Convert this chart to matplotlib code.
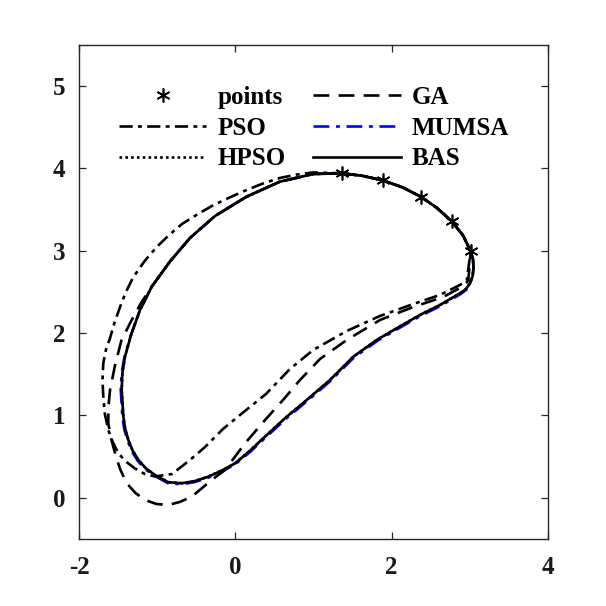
import matplotlib
matplotlib.use("Agg")
import matplotlib.pyplot as plt

plt.rcParams['font.family'] = ['Liberation Serif', 'DejaVu Serif']
plt.rcParams['font.weight'] = 'bold'
plt.rcParams['axes.unicode_minus'] = False

# given points
pts_x = [1.361, 1.893, 2.371, 2.768, 3.011]
pts_y = [3.942, 3.854, 3.658, 3.359, 2.998]

# BAS curve (closed)
bas_x = [1.361, 1.63, 1.893, 2.14, 2.371, 2.58, 2.768, 2.91, 3.011, 3.040, 3.047,
         3.035, 3.002, 2.950, 2.874, 2.618, 2.362,
         2.064, 1.808, 1.509, 1.211, 0.913, 0.657, 0.379, 0.188, -0.004, -0.171,
         -0.346, -0.516, -0.686, -0.861, -1.028, -1.143, -1.241, -1.315, -1.369,
         -1.410, -1.433, -1.454, -1.446, -1.412, -1.335, -1.220, -1.070, -0.836,
         -0.580, -0.260, 0.145, 0.571, 0.997, 1.361]
bas_y = [3.942, 3.910, 3.854, 3.770, 3.658, 3.520, 3.359, 3.190, 2.998, 2.900, 2.792,
         2.690, 2.606, 2.535, 2.484, 2.342, 2.221,
         2.059, 1.917, 1.714, 1.431, 1.188, 0.985, 0.743, 0.572, 0.419, 0.332,
         0.257, 0.204, 0.177, 0.190, 0.277, 0.356, 0.460, 0.575, 0.702,
         0.840, 0.985, 1.310, 1.510, 1.714, 1.978, 2.281, 2.564, 2.871,
         3.156, 3.423, 3.658, 3.840, 3.933, 3.942]

# MUMSA curve (almost identical to BAS, marginally outside on the lower branch)
mumsa_x = [1.361, 1.63, 1.893, 2.14, 2.371, 2.58, 2.768, 2.91, 3.011, 3.040, 3.047,
           3.035, 3.002, 2.954, 2.880, 2.624, 2.368,
           2.070, 1.814, 1.515, 1.217, 0.919, 0.663, 0.385, 0.192, -0.001, -0.170,
           -0.346, -0.516, -0.686, -0.863, -1.034, -1.151, -1.251, -1.327, -1.381,
           -1.422, -1.446, -1.466, -1.456, -1.418, -1.335, -1.220, -1.070, -0.836,
           -0.580, -0.260, 0.145, 0.571, 0.997, 1.361]
mumsa_y = [3.942, 3.910, 3.854, 3.770, 3.658, 3.520, 3.359, 3.190, 2.998, 2.900, 2.792,
           2.690, 2.600, 2.526, 2.474, 2.330, 2.209,
           2.047, 1.905, 1.702, 1.419, 1.176, 0.973, 0.731, 0.560, 0.407, 0.320,
           0.245, 0.192, 0.165, 0.178, 0.267, 0.346, 0.452, 0.569, 0.698,
           0.838, 0.985, 1.310, 1.510, 1.714, 1.978, 2.281, 2.564, 2.871,
           3.156, 3.423, 3.658, 3.840, 3.933, 3.942]

# HPSO curve (coincides with BAS)
hpso_x = list(bas_x)
hpso_y = list(bas_y)

# GA curve (closed)
ga_x = [1.361, 1.63, 1.893, 2.14, 2.371, 2.58, 2.768, 2.91, 3.011, 2.980, 2.896,
        2.660, 2.277, 1.851, 1.425, 1.083, 0.827, 0.610, 0.380, 0.124, -0.132,
        -0.302, -0.558, -0.710, -0.858, -1.010, -1.156, -1.280, -1.390, -1.475,
        -1.539, -1.590, -1.625, -1.625, -1.603, -1.539, -1.456, -1.326, -1.207,
        -1.070, -0.836, -0.580, -0.260, 0.145, 0.571, 0.997, 1.361]
ga_y = [3.942, 3.910, 3.854, 3.770, 3.658, 3.520, 3.359, 3.190, 2.998, 2.634, 2.561,
        2.439, 2.318, 2.160, 1.917, 1.686, 1.431, 1.188, 0.945, 0.662, 0.338,
        0.217, 0.014, -0.050, -0.087, -0.075, -0.026, 0.060, 0.177, 0.350,
        0.541, 0.720, 0.905, 1.100, 1.310, 1.613, 1.917, 2.160, 2.366,
        2.564, 2.871, 3.156, 3.423, 3.658, 3.840, 3.933, 3.942]

# PSO curve (closed)
pso_x = [1.361, 1.63, 1.893, 2.14, 2.371, 2.58, 2.768, 2.91, 3.011, 2.960, 2.849,
         2.618, 2.277, 1.851, 1.425, 0.997, 0.699, 0.392, 0.060, -0.158, -0.388,
         -0.580, -0.810, -1.028, -1.160, -1.284, -1.400, -1.497, -1.570, -1.625,
         -1.670, -1.689, -1.700, -1.689, -1.655, -1.603, -1.545, -1.475, -1.400,
         -1.305, -1.165, -1.006, -0.850, -0.682, -0.490, -0.299, -0.080, 0.145,
         0.360, 0.571, 0.780, 0.997, 1.361]
pso_y = [3.942, 3.910, 3.854, 3.770, 3.658, 3.520, 3.359, 3.190, 2.998, 2.634, 2.573,
         2.464, 2.354, 2.209, 2.026, 1.796, 1.565, 1.261, 1.006, 0.836, 0.617,
         0.460, 0.289, 0.259, 0.290, 0.356, 0.440, 0.541, 0.680, 0.824,
         1.020, 1.225, 1.430, 1.638, 1.800, 1.941, 2.130, 2.318, 2.500,
         2.682, 2.870, 3.047, 3.190, 3.326, 3.440, 3.545, 3.645, 3.739,
         3.820, 3.885, 3.925, 3.952, 3.942]

x_ticks = [-2, 0, 2, 4]
y_ticks = [0, 1, 2, 3, 4, 5]

fig = plt.figure(figsize=(6.06, 6.06), dpi=100)
ax = fig.add_axes([0.1304, 0.1106, 0.7739, 0.8152])

lw = 1.9
l_mumsa, = ax.plot(mumsa_x, mumsa_y, color='#0000ff', lw=lw, linestyle=(0, (6, 2.5, 1.5, 2.5)), label='MUMSA')
l_hpso, = ax.plot(hpso_x, hpso_y, color='black', lw=lw, linestyle=(0, (1, 1.2)), label='HPSO')
l_ga, = ax.plot(ga_x, ga_y, color='black', lw=lw, linestyle=(0, (6, 3.5)), label='GA')
l_pso, = ax.plot(pso_x, pso_y, color='black', lw=lw, linestyle=(0, (5, 2, 1.5, 2)), label='PSO')
l_bas, = ax.plot(bas_x, bas_y, color='black', lw=lw, linestyle='-', label='BAS')
l_pts, = ax.plot(pts_x, pts_y, linestyle='none', marker=(6, 2, 0), markersize=10,
                 markeredgewidth=1.2, color='black', label='points')

ax.set_xlim(-2, 4)
ax.set_ylim(-0.5, 5.5)
ax.set_xticks(x_ticks)
ax.set_yticks(y_ticks)
ax.set_xticklabels([str(t) for t in x_ticks])
ax.set_yticklabels([str(t) for t in y_ticks])
ax.tick_params(direction='in', length=5, width=0.9, colors='#262626',
               labelsize=18, top=True, right=True)
ax.tick_params(axis='x', pad=12)
ax.tick_params(axis='y', pad=10)
for lab in ax.get_xticklabels() + ax.get_yticklabels():
    lab.set_fontweight('bold')
    lab.set_color('#1a1a1a')
for sp in ax.spines.values():
    sp.set_color('#262626')
    sp.set_linewidth(1.0)

leg = ax.legend([l_pts, l_pso, l_hpso, l_ga, l_mumsa, l_bas],
                ['points', 'PSO', 'HPSO', 'GA', 'MUMSA', 'BAS'],
                ncol=2, frameon=False, loc='upper left',
                bbox_to_anchor=(0.085, 0.917), borderpad=0, borderaxespad=0,
                handlelength=3.5, handletextpad=0.44, columnspacing=1.1,
                labelspacing=0.31, prop={'size': 18, 'weight': 'bold'})

fig.savefig('out.png', dpi=100)
